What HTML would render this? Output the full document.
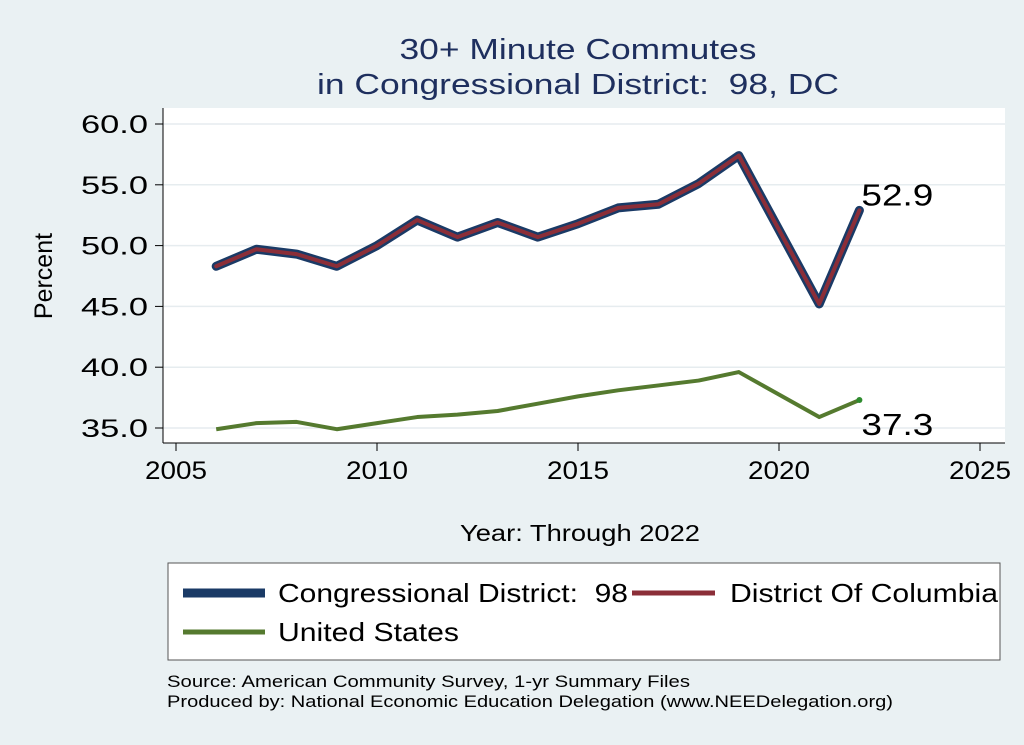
<!DOCTYPE html>
<html><head><meta charset="utf-8"><style>
body{margin:0;background:#eaf1f3;font-family:"Liberation Sans",sans-serif;}
svg{display:block}
text{white-space:pre}
</style></head><body>
<svg width="1024" height="745">
<rect x="0" y="0" width="1024" height="745" fill="#eaf1f3"/>
<text x="578" y="59" font-size="29" fill="#1e2f5e" text-anchor="middle" textLength="357" lengthAdjust="spacingAndGlyphs">30+ Minute Commutes</text>
<text x="578" y="94" font-size="29" fill="#1e2f5e" text-anchor="middle" textLength="522" lengthAdjust="spacingAndGlyphs">in Congressional District:  98, DC</text>
<rect x="163" y="108" width="842" height="335" fill="#fff"/>
<g id="grid"></g><g id="axes"></g><g id="series"></g>
<text x="52" y="276" font-size="25" fill="#000" text-anchor="middle" transform="rotate(-90 52 276)">Percent</text>
<text x="580" y="541" font-size="23" fill="#000" text-anchor="middle" textLength="240" lengthAdjust="spacingAndGlyphs">Year: Through 2022</text>
<rect x="168" y="563" width="832" height="97" fill="#fff" stroke="#555" stroke-width="1"/>
<g>
<line x1="183" y1="593" x2="265" y2="593" stroke="#1a3a66" stroke-width="9"/>
<text x="278" y="602" font-size="26" fill="#000" textLength="350" lengthAdjust="spacingAndGlyphs">Congressional District:  98</text></g>
<g>
<line x1="632" y1="593" x2="715" y2="593" stroke="#8b2e38" stroke-width="5"/>
<text x="730" y="602" font-size="26" fill="#000" textLength="268" lengthAdjust="spacingAndGlyphs">District Of Columbia</text></g>
<g>
<line x1="183" y1="632" x2="265" y2="632" stroke="#557a2f" stroke-width="5"/>
<text x="278" y="641" font-size="26" fill="#000" textLength="181" lengthAdjust="spacingAndGlyphs">United States</text></g>
<text x="167" y="687" font-size="17" fill="#000" textLength="523" lengthAdjust="spacingAndGlyphs">Source: American Community Survey, 1-yr Summary Files</text>
<text x="167" y="707" font-size="17" fill="#000" textLength="726" lengthAdjust="spacingAndGlyphs">Produced by: National Economic Education Delegation (www.NEEDelegation.org)</text>
</svg>
<script>
const years=[2006,2007,2008,2009,2010,2011,2012,2013,2014,2015,2016,2017,2018,2019,2021,2022];
const cdValues=[48.3,49.7,49.3,48.3,50.0,52.1,50.7,51.9,50.7,51.8,53.1,53.4,55.1,57.4,45.2,52.9];
const dcValues=[48.3,49.7,49.3,48.3,50.0,52.1,50.7,51.9,50.7,51.8,53.1,53.4,55.1,57.4,45.2,52.9];
const usValues=[34.9,35.4,35.5,34.9,35.4,35.9,36.1,36.4,37.0,37.6,38.1,38.5,38.9,39.6,35.9,37.3];
const yTicks=[35,40,45,50,55,60];
const xTicks=[2005,2010,2015,2020,2025];
const NS="http://www.w3.org/2000/svg";
const xS=v=>176+(v-2005)*40.2;
const yS=v=>428-(v-35)*12.16;
function mk(tag,attrs,parent,txt){const e=document.createElementNS(NS,tag);for(const k in attrs)e.setAttribute(k,attrs[k]);if(txt!=null)e.textContent=txt;document.getElementById(parent).appendChild(e);return e;}
yTicks.forEach(t=>{
 const g=mk('line',{x1:163,x2:1005,y1:yS(t),y2:yS(t),stroke:'#e6ecef','stroke-width':1.5},'grid');
 
 
 const tk=mk('line',{x1:155,x2:163,y1:yS(t),y2:yS(t),stroke:'#000'},'axes');
 
 
 const l=mk('text',{x:148,y:yS(t)+9,'font-size':25,'text-anchor':'end',textLength:67,lengthAdjust:'spacingAndGlyphs'},'axes',t.toFixed(1));
 
 
});
xTicks.forEach(t=>{
 const tk=mk('line',{x1:xS(t),x2:xS(t),y1:443,y2:451,stroke:'#000'},'axes');
 
 
 const l=mk('text',{x:xS(t),y:479,'font-size':25,'text-anchor':'middle',textLength:62,lengthAdjust:'spacingAndGlyphs'},'axes',t);
 
 
});
const ax1=mk('line',{x1:163,x2:163,y1:108,y2:443,stroke:'#000'},'axes');


const ax2=mk('line',{x1:163,x2:1005,y1:443,y2:443,stroke:'#000'},'axes');


const pts=vals=>vals.map((v,i)=>xS(years[i])+','+yS(v)).join(' ');
const cd=mk('polyline',{points:pts(cdValues),fill:'none',stroke:'#1a3a66','stroke-width':9,'stroke-linejoin':'round','stroke-linecap':'round'},'series');


const dc=mk('polyline',{points:pts(dcValues),fill:'none',stroke:'#8b2e38','stroke-width':4,'stroke-linejoin':'round','stroke-linecap':'round'},'series');


const us=mk('polyline',{points:pts(usValues),fill:'none',stroke:'#557a2f','stroke-width':4,'stroke-linejoin':'round'},'series');


const n=years.length-1;
const ud=mk('circle',{cx:xS(years[n]),cy:yS(usValues[n]),r:3,fill:'#2e8b2e'},'series');


const l1=mk('text',{x:xS(years[n])+2,y:yS(cdValues[n])-5,'font-size':31,textLength:72,lengthAdjust:'spacingAndGlyphs'},'series',cdValues[n].toFixed(1));


const l2=mk('text',{x:xS(years[n])+2,y:yS(usValues[n])+35,'font-size':31,textLength:72,lengthAdjust:'spacingAndGlyphs'},'series',usValues[n].toFixed(1));


</script>
</body></html>
